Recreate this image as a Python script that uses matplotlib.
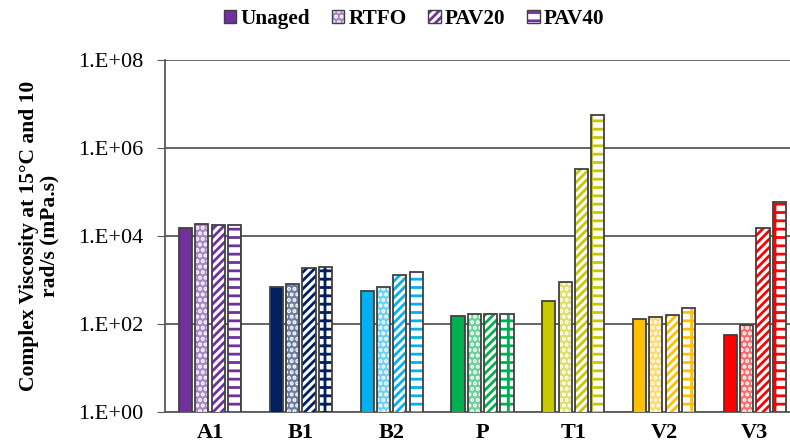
import numpy as np
import matplotlib
matplotlib.use('Agg')
import matplotlib.pyplot as plt
from matplotlib.patches import Patch
from matplotlib.colors import to_rgb

plt.rcParams['font.family'] = ['Liberation Serif', 'DejaVu Serif']
plt.rcParams['hatch.linewidth'] = 2.0

# data
binders = ['A1', 'B1', 'B2', 'P', 'T1', 'V2', 'V3']
conditions = ['Unaged', 'RTFO', 'PAV20', 'PAV40']
unaged = [1.5e4, 690, 570, 150, 333, 132, 55]
rtfo = [1.9e4, 800, 690, 166, 915, 144, 93]
pav20 = [1.8e4, 1900, 1320, 166, 3.3e5, 158, 1.55e4]
pav40 = [1.8e4, 2000, 1520, 166, 5.6e6, 234, 5.9e4]
colors = ['#7030A0', '#002060', '#00B0F0', '#00B050', '#C8C800', '#FFC000', '#FF0000']
yticks = [1e0, 1e2, 1e4, 1e6, 1e8]
ytick_labels = ['1.E+00', '1.E+02', '1.E+04', '1.E+06', '1.E+08']

series = [unaged, rtfo, pav20, pav40]


def light(c, f=0.5):
    r, g, b = to_rgb(c)
    return (r + (1 - r) * f, g + (1 - g) * f, b + (1 - b) * f)


def styles(c):
    # (facecolor, hatch colour, hatch) for each ageing condition
    return [(c, c, None),
            (light(c, 0.42), 'white', '...'),
            ('white', c, '////'),
            ('white', c, '+-')]


fig = plt.figure(figsize=(7.9, 4.48), dpi=100)
ax = fig.add_axes([0.2084, 0.0804, 0.8046, 0.7857])

x = np.arange(len(binders))
w = 0.145
step = 0.18
edge = '#404040'

for j, vals in enumerate(series):
    xs = x + (j - 1.5) * step
    for i in range(len(binders)):
        fc, hc, h = styles(colors[i])[j]
        ax.bar(xs[i], vals[i], width=w, color=fc, edgecolor=hc, hatch=h,
               linewidth=0, zorder=3)
        ax.bar(xs[i], vals[i], width=w, fill=False, edgecolor=edge,
               linewidth=1.3, zorder=4)

ax.set_yscale('log')
ax.set_ylim(1, 1e8)
ax.set_xlim(-0.5, 6.5)
ax.set_yticks(yticks)
ax.set_yticklabels(ytick_labels, fontsize=16)
ax.minorticks_off()
ax.set_xticks(x)
ax.set_xticklabels(binders, fontsize=16, fontweight='bold')
ax.tick_params(axis='x', length=0, pad=8)
ax.tick_params(axis='y', length=6, color='#595959', pad=9)
ax.yaxis.grid(True, color='#595959', linewidth=1.3, zorder=0)
ax.set_axisbelow(True)
for s in ['top', 'right']:
    ax.spines[s].set_visible(False)
for s in ['left', 'bottom']:
    ax.spines[s].set_color('#595959')
    ax.spines[s].set_linewidth(1.3)

ax.set_ylabel('Complex Viscosity at 15°C and 10\nrad/s (mPa.s)',
              fontsize=15.5, fontweight='bold', labelpad=14, linespacing=1.0)

handles = []
for fc, hc, h in styles(colors[0]):
    handles.append((Patch(facecolor=fc, edgecolor=hc, hatch=h, linewidth=0),
                    Patch(fill=False, edgecolor=edge, linewidth=1.0)))
leg = fig.legend(handles, conditions, loc='center', bbox_to_anchor=(0.524, 0.958),
                 ncol=4, frameon=False, handlelength=0.6, handleheight=0.6,
                 handletextpad=0.2, columnspacing=1.0,
                 prop={'weight': 'bold', 'size': 15.3})

fig.savefig('out.png', dpi=100)
